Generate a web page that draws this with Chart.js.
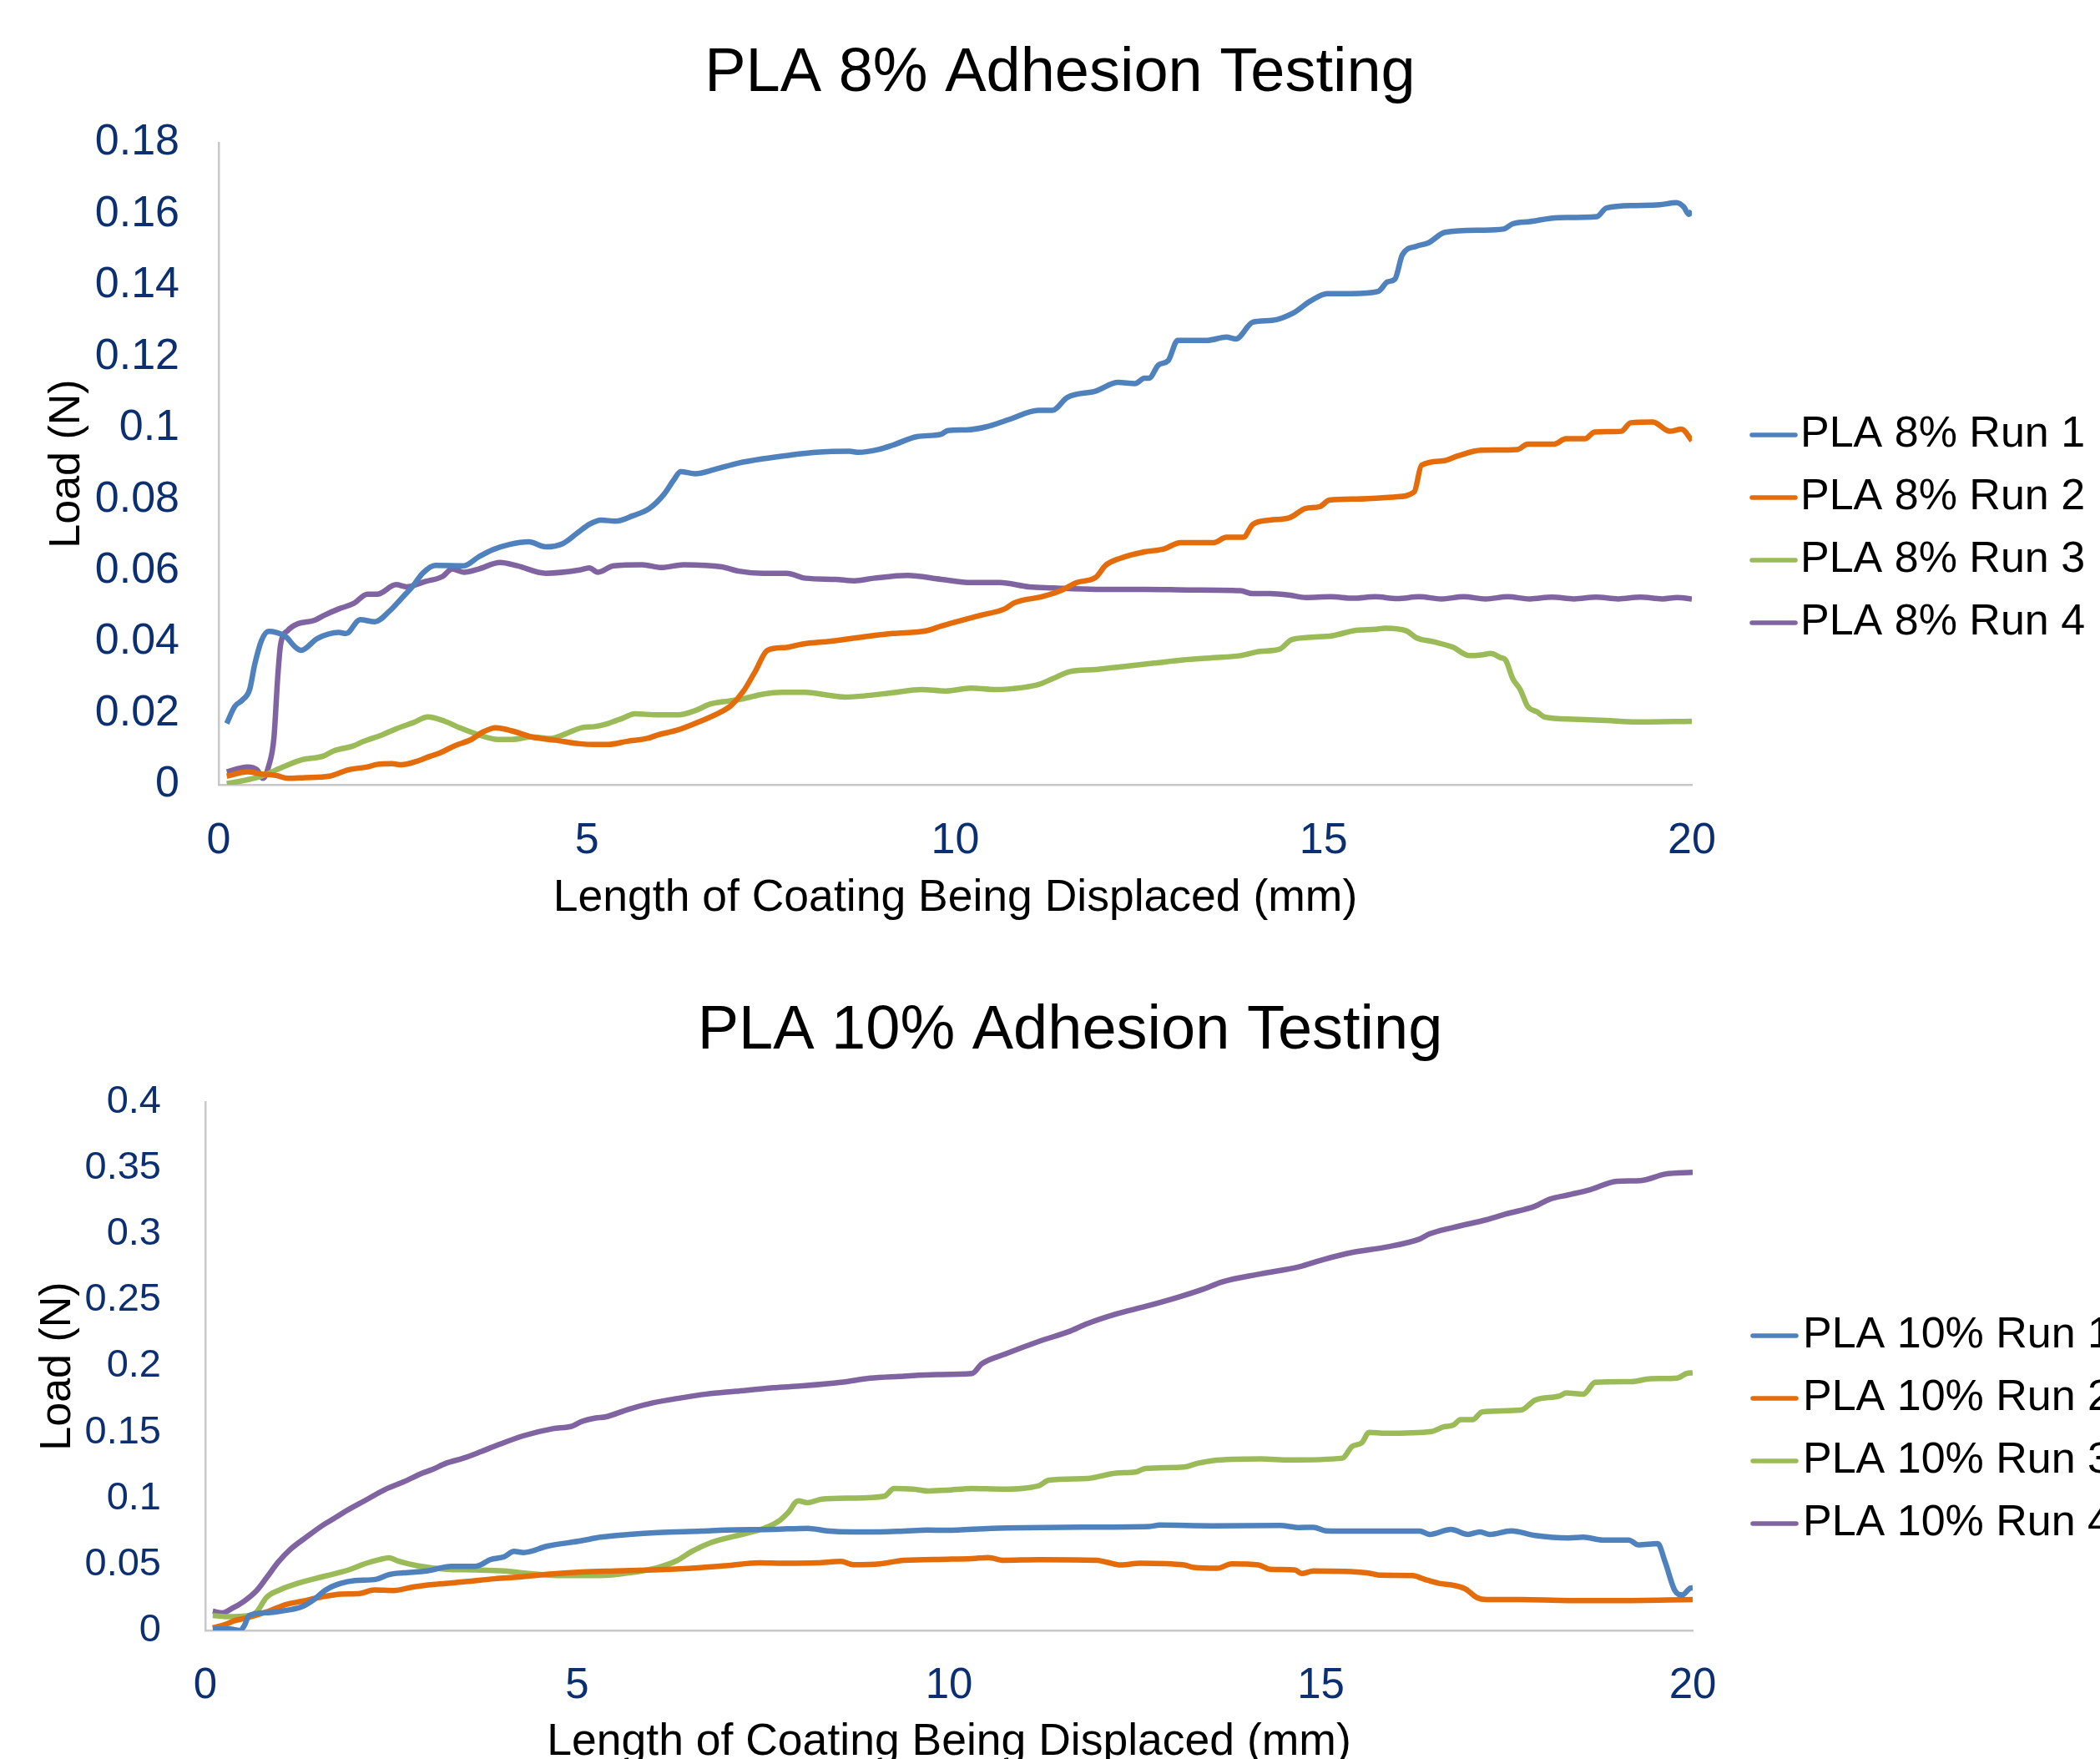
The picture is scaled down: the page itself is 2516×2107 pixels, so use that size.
<!DOCTYPE html>
<html>
<head>
<meta charset="utf-8">
<title>PLA Adhesion Testing</title>
<script src="https://cdn.jsdelivr.net/npm/chart.js@4.4.1/dist/chart.umd.min.js"></script>
<style>
    html, body { margin: 0; padding: 0; background: #fff; overflow: hidden; }
    .panel { position: absolute; left: 0; }
    #panel-8 { top: 0; }
    #panel-10 { top: 1150px; }
</style>
</head>
<body>
<div class="panel" id="panel-8"><canvas id="chart8" width="2516" height="1150"></canvas></div>
<div class="panel" id="panel-10"><canvas id="chart10" width="2540" height="1000"></canvas></div>
<script>
// Valeurs : [déplacement (mm), charge (N)]
const pla8Run1 = [[0.11,0.0172],[0.22,0.022],[0.32,0.0237],[0.42,0.0267],[0.49,0.0338],[0.58,0.0404],[0.68,0.043],[0.78,0.0427],[0.91,0.0415],[1.04,0.0386],[1.12,0.0377],[1.34,0.041],[1.63,0.0427],[1.73,0.0424],[1.92,0.0463],[2.12,0.0457],[2.32,0.0487],[2.48,0.0522],[2.64,0.0558],[2.77,0.0593],[2.94,0.0615],[3.33,0.0614],[3.53,0.0639],[3.72,0.0659],[3.95,0.0674],[4.21,0.0681],[4.44,0.0667],[4.67,0.0676],[4.87,0.0706],[5.03,0.073],[5.19,0.0742],[5.39,0.0739],[5.62,0.0754],[5.85,0.0775],[6.04,0.0813],[6.18,0.0855],[6.27,0.0878],[6.47,0.0872],[6.73,0.0884],[7.06,0.0902],[7.39,0.0914],[7.71,0.0923],[8.11,0.0932],[8.56,0.0935],[8.69,0.0932],[8.96,0.094],[9.15,0.0952],[9.48,0.0976],[9.81,0.0983],[9.9,0.0993],[10.15,0.0995],[10.41,0.1003],[10.73,0.1024],[11.13,0.105],[11.32,0.105],[11.52,0.1086],[11.91,0.1104],[12.21,0.1128],[12.44,0.1125],[12.57,0.114],[12.63,0.114],[12.76,0.1177],[12.89,0.1189],[13.02,0.1246],[13.42,0.1246],[13.68,0.1255],[13.81,0.125],[14.04,0.1297],[14.3,0.1302],[14.59,0.1323],[14.82,0.1356],[15.05,0.1377],[15.38,0.1377],[15.74,0.1383],[15.87,0.141],[15.97,0.1418],[16.07,0.1486],[16.26,0.151],[16.42,0.1519],[16.65,0.1549],[17.14,0.1555],[17.44,0.1558],[17.57,0.1573],[17.8,0.1579],[18.19,0.159],[18.71,0.1593],[18.84,0.1617],[19.24,0.1624],[19.56,0.1626],[19.79,0.1632],[19.89,0.162],[19.96,0.1599],[20.0,0.1608]];
const pla8Run2 = [[0.11,0.0024],[0.39,0.0036],[0.58,0.003],[0.78,0.0026],[0.94,0.0018],[1.17,0.002],[1.5,0.0024],[1.76,0.0042],[2.02,0.005],[2.15,0.0057],[2.35,0.0059],[2.48,0.0056],[2.68,0.0065],[2.87,0.008],[3.0,0.0089],[3.2,0.0109],[3.43,0.0127],[3.59,0.0148],[3.76,0.016],[3.98,0.0151],[4.25,0.0134],[4.57,0.0125],[4.9,0.0115],[5.1,0.0113],[5.29,0.0113],[5.55,0.0122],[5.82,0.013],[5.95,0.0139],[6.24,0.0154],[6.54,0.0178],[6.8,0.0202],[6.96,0.0223],[7.12,0.0261],[7.29,0.032],[7.45,0.0377],[7.71,0.0385],[7.91,0.0394],[8.37,0.0404],[8.76,0.0415],[9.15,0.0424],[9.61,0.0432],[9.81,0.0445],[9.98,0.0455],[10.34,0.0475],[10.67,0.0493],[10.8,0.051],[11.19,0.0528],[11.45,0.0546],[11.65,0.0567],[11.91,0.0582],[12.04,0.0615],[12.24,0.0635],[12.57,0.0653],[12.83,0.0661],[13.06,0.0679],[13.51,0.0679],[13.68,0.0694],[13.91,0.0694],[14.04,0.073],[14.27,0.0742],[14.53,0.0748],[14.76,0.0775],[14.95,0.078],[15.08,0.0798],[15.44,0.0801],[15.97,0.0807],[16.23,0.0821],[16.33,0.0896],[16.62,0.0908],[16.82,0.0922],[17.14,0.0938],[17.63,0.094],[17.77,0.0955],[18.13,0.0955],[18.29,0.097],[18.55,0.097],[18.68,0.0989],[19.04,0.0991],[19.17,0.1015],[19.47,0.1017],[19.7,0.0991],[19.86,0.0997],[20.0,0.0965]];
const pla8Run3 = [[0.11,0.0003],[0.39,0.0014],[0.58,0.0024],[0.84,0.0047],[1.11,0.0069],[1.43,0.0081],[1.56,0.0095],[1.83,0.0109],[1.96,0.0121],[2.22,0.014],[2.41,0.0157],[2.64,0.0174],[2.84,0.019],[3.07,0.0178],[3.27,0.016],[3.53,0.014],[3.79,0.0127],[3.98,0.0127],[4.25,0.0134],[4.51,0.013],[4.7,0.0142],[4.93,0.016],[5.1,0.0163],[5.29,0.0172],[5.49,0.0187],[5.65,0.0199],[5.95,0.0196],[6.24,0.0196],[6.47,0.0208],[6.67,0.0226],[6.93,0.0235],[7.12,0.0241],[7.39,0.0254],[7.65,0.0259],[7.97,0.0259],[8.24,0.0252],[8.5,0.0246],[8.76,0.0249],[9.15,0.0258],[9.54,0.0267],[9.87,0.0263],[10.21,0.0271],[10.54,0.0267],[10.93,0.0273],[11.13,0.0281],[11.32,0.0297],[11.55,0.0317],[11.91,0.0323],[12.3,0.0332],[12.7,0.0341],[13.09,0.035],[13.48,0.0356],[13.87,0.0362],[14.14,0.0374],[14.4,0.038],[14.56,0.0406],[14.79,0.0413],[15.12,0.0418],[15.44,0.0433],[15.71,0.0436],[15.84,0.0439],[16.13,0.0431],[16.26,0.0412],[16.49,0.0401],[16.75,0.0386],[16.98,0.0362],[17.14,0.0364],[17.27,0.0368],[17.41,0.0356],[17.47,0.035],[17.57,0.0297],[17.67,0.0267],[17.77,0.022],[17.9,0.0204],[18.0,0.019],[18.39,0.0184],[18.84,0.018],[19.24,0.0176],[20.0,0.0178]];
const pla8Run4 = [[0.11,0.0036],[0.39,0.005],[0.52,0.0042],[0.6,0.0018],[0.68,0.0053],[0.75,0.0131],[0.8,0.0297],[0.84,0.0392],[0.94,0.0433],[1.07,0.0451],[1.3,0.0461],[1.43,0.0475],[1.63,0.0493],[1.83,0.0508],[2.02,0.0534],[2.15,0.0534],[2.41,0.0561],[2.55,0.0555],[2.81,0.057],[3.04,0.0584],[3.17,0.0605],[3.33,0.0596],[3.53,0.0605],[3.82,0.0623],[4.05,0.0614],[4.44,0.0593],[4.9,0.0602],[5.03,0.0608],[5.15,0.0596],[5.36,0.0614],[5.75,0.0617],[6.01,0.0609],[6.31,0.0617],[6.83,0.0611],[7.06,0.0599],[7.39,0.0593],[7.71,0.0593],[7.97,0.0579],[8.37,0.0576],[8.63,0.0572],[8.89,0.0579],[9.35,0.0587],[9.81,0.0576],[10.21,0.0567],[10.6,0.0567],[11.0,0.0555],[11.32,0.0552],[11.91,0.0548],[12.57,0.0548],[13.22,0.0546],[13.87,0.0544],[14.04,0.0536],[14.27,0.0536],[14.53,0.0532],[14.76,0.0525],[15.1,0.0527],[15.4,0.0523],[15.7,0.0527],[16.0,0.0522],[16.3,0.0527],[16.6,0.0521],[16.9,0.0527],[17.2,0.0521],[17.5,0.0527],[17.8,0.0521],[18.1,0.0526],[18.4,0.0521],[18.7,0.0526],[19.0,0.0521],[19.3,0.0526],[19.6,0.0521],[19.8,0.0525],[20.0,0.0521]];

const pla10Run1 = [[0.1,0.0011],[0.33,0.0011],[0.46,0.0],[0.52,0.0032],[0.59,0.0113],[0.85,0.0135],[1.11,0.0154],[1.3,0.018],[1.46,0.0234],[1.62,0.0307],[1.82,0.0356],[2.01,0.0377],[2.3,0.0388],[2.47,0.0423],[2.66,0.0436],[2.98,0.045],[3.31,0.0485],[3.63,0.0485],[3.73,0.0504],[3.83,0.0536],[4.02,0.0558],[4.15,0.0598],[4.28,0.059],[4.6,0.0638],[5.06,0.0679],[5.31,0.0706],[5.7,0.0727],[6.09,0.0741],[6.67,0.0752],[7.0,0.076],[7.64,0.0765],[8.1,0.0773],[8.36,0.0754],[8.68,0.0746],[9.07,0.0746],[9.39,0.0752],[9.71,0.076],[9.97,0.0758],[10.57,0.0773],[11.54,0.0781],[12.7,0.0787],[12.83,0.0797],[13.54,0.0792],[14.45,0.0795],[14.71,0.0779],[14.9,0.0781],[15.07,0.0754],[15.55,0.0752],[16.33,0.0752],[16.46,0.0727],[16.75,0.0765],[16.98,0.0727],[17.14,0.0746],[17.27,0.0727],[17.56,0.0754],[17.88,0.0719],[18.33,0.07],[18.53,0.0706],[18.79,0.0684],[19.14,0.0684],[19.27,0.0647],[19.53,0.0657],[19.63,0.0517],[19.76,0.0302],[19.86,0.0269],[19.97,0.0321],[20.0,0.0323]];
const pla10Run2 = [[0.1,0.0019],[0.27,0.0046],[0.39,0.0073],[0.59,0.01],[0.85,0.0145],[1.07,0.0194],[1.3,0.0221],[1.56,0.0253],[1.82,0.0275],[2.08,0.028],[2.27,0.0307],[2.53,0.0302],[2.79,0.0329],[3.11,0.035],[3.5,0.0369],[3.89,0.0391],[4.21,0.0404],[4.67,0.0428],[5.06,0.0442],[5.51,0.045],[6.03,0.0458],[6.54,0.0471],[7.0,0.049],[7.45,0.0512],[7.77,0.0509],[8.23,0.0512],[8.55,0.0523],[8.71,0.0498],[9.07,0.0504],[9.39,0.0531],[9.97,0.0539],[10.31,0.0544],[10.53,0.0552],[10.73,0.0531],[11.21,0.0536],[11.99,0.0531],[12.12,0.0517],[12.31,0.0496],[12.57,0.0509],[13.16,0.0496],[13.29,0.0477],[13.61,0.0471],[13.8,0.0504],[14.16,0.0496],[14.32,0.0463],[14.65,0.0458],[14.74,0.0431],[14.9,0.045],[15.62,0.0436],[15.81,0.0418],[16.23,0.0415],[16.39,0.0388],[16.59,0.0356],[16.78,0.0342],[16.94,0.0315],[17.1,0.0248],[17.23,0.0234],[17.69,0.0234],[18.33,0.0226],[18.98,0.0226],[20.0,0.0234]];
const pla10Run3 = [[0.1,0.0113],[0.27,0.0105],[0.59,0.0113],[0.69,0.014],[0.82,0.0248],[0.98,0.0302],[1.24,0.0356],[1.5,0.0396],[1.75,0.0431],[1.95,0.0463],[2.14,0.0504],[2.34,0.0536],[2.47,0.055],[2.6,0.0523],[2.85,0.049],[3.24,0.0463],[3.63,0.0458],[4.02,0.045],[4.41,0.0428],[4.8,0.0415],[5.31,0.0415],[5.7,0.0436],[6.09,0.0477],[6.35,0.0531],[6.54,0.0598],[6.8,0.0665],[7.26,0.0733],[7.51,0.0773],[7.71,0.0827],[7.84,0.0894],[7.97,0.0981],[8.1,0.0967],[8.29,0.0994],[8.68,0.1002],[9.13,0.1016],[9.26,0.1075],[9.52,0.107],[9.72,0.1056],[9.97,0.1061],[10.31,0.1075],[10.7,0.107],[11.21,0.1096],[11.34,0.1137],[11.86,0.115],[12.25,0.1191],[12.51,0.1199],[12.64,0.1226],[13.16,0.1237],[13.35,0.1266],[13.54,0.1285],[14.19,0.1298],[14.58,0.129],[15.29,0.1304],[15.42,0.1393],[15.55,0.142],[15.65,0.15],[15.87,0.1493],[16.49,0.1506],[16.65,0.1541],[16.78,0.1554],[16.88,0.1595],[17.04,0.1595],[17.17,0.1654],[17.69,0.1668],[17.88,0.1743],[18.21,0.1775],[18.3,0.1797],[18.53,0.1789],[18.69,0.1878],[19.18,0.1883],[19.43,0.1905],[19.79,0.191],[19.92,0.1945],[20.0,0.195]];
const pla10Run4 = [[0.1,0.0145],[0.23,0.0132],[0.36,0.0167],[0.52,0.0221],[0.69,0.0302],[0.82,0.0396],[0.98,0.0517],[1.14,0.0612],[1.37,0.0711],[1.59,0.08],[1.75,0.0854],[1.88,0.09],[2.14,0.0981],[2.43,0.107],[2.66,0.1123],[2.92,0.1191],[3.05,0.1218],[3.24,0.1266],[3.47,0.1304],[3.7,0.1352],[3.92,0.1401],[4.28,0.1474],[4.67,0.1527],[4.93,0.1546],[5.06,0.1581],[5.25,0.1608],[5.38,0.1616],[5.7,0.1676],[6.03,0.1724],[6.35,0.1756],[6.74,0.1789],[7.13,0.181],[7.64,0.1837],[8.03,0.1851],[8.55,0.1878],[8.94,0.191],[9.33,0.1923],[9.84,0.1937],[10.31,0.1945],[10.44,0.2018],[10.76,0.2093],[11.21,0.2188],[11.6,0.226],[11.86,0.2322],[12.25,0.2395],[12.64,0.2452],[13.09,0.2524],[13.42,0.2584],[13.67,0.2638],[14.19,0.2699],[14.71,0.2753],[15.03,0.2807],[15.42,0.2861],[15.87,0.2901],[16.33,0.2963],[16.46,0.3001],[16.78,0.305],[17.23,0.3109],[17.49,0.3152],[17.88,0.3211],[18.08,0.3265],[18.33,0.3297],[18.63,0.3338],[18.98,0.34],[19.3,0.3405],[19.63,0.3454],[20.0,0.3467]];

const labels8 = ['PLA 8% Run 1', 'PLA 8% Run 2', 'PLA 8% Run 3', 'PLA 8% Run 4'];
const labels10 = ['PLA 10% Run 1', 'PLA 10% Run 2', 'PLA 10% Run 3', 'PLA 10% Run 4'];
const xTicks = [0, 5, 10, 15, 20];
const yTicks8 = [0, 0.02, 0.04, 0.06, 0.08, 0.1, 0.12, 0.14, 0.16, 0.18];
const yTicks10 = [0, 0.05, 0.1, 0.15, 0.2, 0.25, 0.3, 0.35, 0.4];

const SERIES_COLORS = ['#4f81bd', '#e46c0a', '#9bbb59', '#8064a2'];
const FONT = "'Liberation Sans', Arial, sans-serif";
const TICK_COLOR = '#0b2f70';
const AXIS_COLOR = '#c8c8c8';

// Légende dessinée à droite de la zone de tracé (texte coupé par le bord de la page comme l'original)
const sideLegend = {
    id: 'sideLegend',
    afterDraw(chart, args, opts) {
        const { ctx, chartArea } = chart;
        ctx.save();
        ctx.font = `${opts.fontSize}px ${FONT}`;
        ctx.textBaseline = 'middle';
        ctx.textAlign = 'left';
        ctx.lineCap = 'round';
        chart.data.datasets.forEach((ds, i) => {
            const y = opts.top + i * opts.rowGap;
            const x0 = chartArea.right + opts.lineOffset;
            ctx.strokeStyle = ds.borderColor;
            ctx.lineWidth = 5.5;
            ctx.beginPath();
            ctx.moveTo(x0, y);
            ctx.lineTo(x0 + opts.lineLength, y);
            ctx.stroke();
            ctx.fillStyle = '#000';
            ctx.fillText(ds.label, chartArea.right + opts.textOffset, y);
        });
        ctx.restore();
    }
};

function buildChart(canvasId, cfg) {
    const yTicks = cfg.yTicks;
    return new Chart(document.getElementById(canvasId), {
        type: 'line',
        data: {
            datasets: cfg.series.map((points, i) => ({
                label: cfg.labels[i],
                data: points.map(([x, y]) => ({ x, y })),
                xAxisID: 'x',
                yAxisID: 'y',
                borderColor: SERIES_COLORS[i],
                backgroundColor: SERIES_COLORS[i],
                borderWidth: 6.5,
                pointRadius: 0,
                cubicInterpolationMode: 'monotone',
                fill: false
            }))
        },
        options: {
            responsive: false,
            animation: false,
            layout: { padding: { left: cfg.padLeft, top: 0, right: 0, bottom: 0 } },
            plugins: {
                legend: { display: false },
                tooltip: { enabled: false },
                title: {
                    display: true,
                    text: cfg.title,
                    color: '#000',
                    font: { family: FONT, size: 74, weight: 'normal', lineHeight: 1.2 },
                    padding: { top: cfg.titlePadTop, bottom: cfg.titlePadBottom }
                },
                sideLegend: {
                    top: cfg.legendTop, rowGap: 75, fontSize: 52,
                    lineOffset: 72, lineLength: 52, textOffset: cfg.legendTextOffset
                }
            },
            scales: {
                x: {
                    type: 'linear',
                    position: 'bottom',
                    min: xTicks[0],
                    max: xTicks[xTicks.length - 1],
                    afterBuildTicks: (s) => { s.ticks = xTicks.map(v => ({ value: v })); },
                    ticks: { color: TICK_COLOR, font: { family: FONT, size: cfg.xTickSize }, padding: 36, maxRotation: 0 },
                    grid: { display: false, drawTicks: false },
                    border: { display: true, color: AXIS_COLOR, width: 2.5 },
                    title: {
                        display: true,
                        text: 'Length of Coating Being Displaced (mm)',
                        color: '#000',
                        font: { family: FONT, size: 53.5, lineHeight: 1.2 },
                        padding: { top: 0, bottom: cfg.xTitlePad }
                    },
                    afterFit: (s) => { s.height = cfg.xAxisHeight; }
                },
                y: {
                    type: 'linear',
                    position: 'left',
                    min: yTicks[0],
                    max: yTicks[yTicks.length - 1],
                    afterBuildTicks: (s) => { s.ticks = yTicks.map(v => ({ value: v })); },
                    ticks: {
                        color: TICK_COLOR,
                        font: { family: FONT, size: cfg.yTickSize },
                        padding: cfg.yTickPad,
                        callback: (v) => String(parseFloat(Number(v).toFixed(3)))
                    },
                    grid: { display: false, drawTicks: false },
                    border: { display: true, color: AXIS_COLOR, width: 2.5 },
                    title: {
                        display: true,
                        text: 'Load (N)',
                        color: '#000',
                        font: { family: FONT, size: 52, lineHeight: 1.2 },
                        padding: { top: cfg.yTitlePad, bottom: 0 }
                    },
                    afterFit: (s) => { s.width = cfg.yAxisWidth; }
                },
                // espace réservé à droite pour la légende
                gap: {
                    type: 'linear',
                    position: 'right',
                    grid: { display: false, drawTicks: false },
                    border: { display: false },
                    ticks: { display: false },
                    afterFit: (s) => { s.width = cfg.rightGap; }
                }
            }
        },
        plugins: [sideLegend]
    });
}

buildChart('chart8', {
    title: 'PLA 8% Adhesion Testing',
    labels: labels8,
    series: [pla8Run1, pla8Run2, pla8Run3, pla8Run4],
    yTicks: yTicks8,
    padLeft: 24, yAxisWidth: 238, rightGap: 489,
    titlePadTop: 44, titlePadBottom: 38.2,
    xAxisHeight: 210, xTitlePad: 42, yTitlePad: 25.5,
    yTickPad: 47, yTickSize: 52, xTickSize: 52,
    legendTop: 521, legendTextOffset: 130
});

buildChart('chart10', {
    title: 'PLA 10% Adhesion Testing',
    labels: labels10,
    series: [pla10Run1, pla10Run2, pla10Run3, pla10Run4],
    yTicks: yTicks10,
    padLeft: 24, yAxisWidth: 222, rightGap: 512,
    titlePadTop: 41, titlePadBottom: 40.2,
    xAxisHeight: 197, xTitlePad: 31, yTitlePad: 14,
    yTickPad: 53, yTickSize: 47, xTickSize: 51,
    legendTop: 450, legendTextOffset: 132
});
</script>
</body>
</html>
